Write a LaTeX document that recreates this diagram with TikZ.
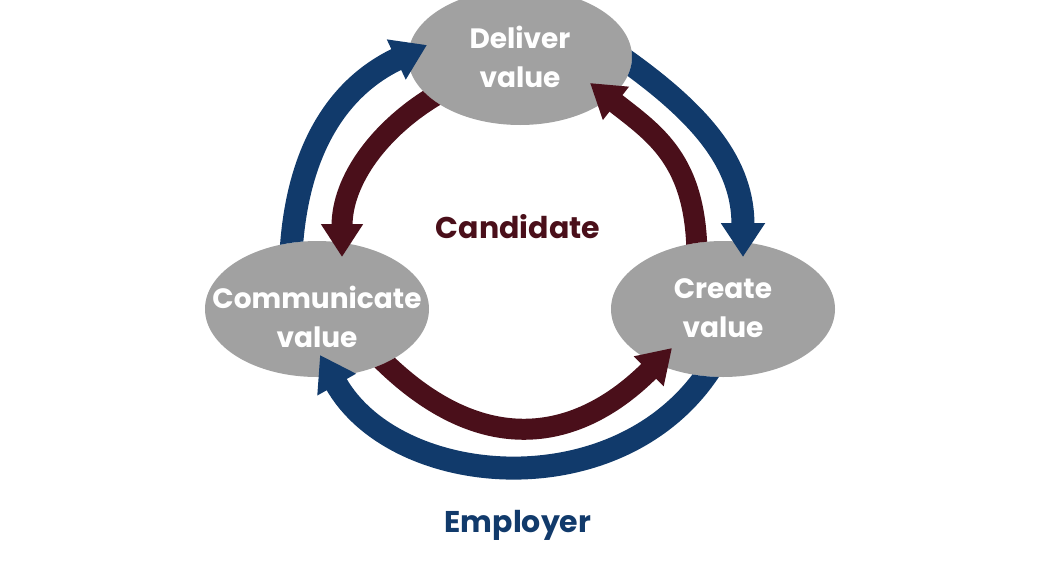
\documentclass[tikz,border=0pt]{standalone}
\usepackage{fontspec}
\setmainfont{Poppins}
\usetikzlibrary{arrows.meta,shapes.geometric,calc}
\definecolor{navy}{RGB}{17,58,107}
\definecolor{maroon}{RGB}{74,15,26}
\definecolor{bgrey}{RGB}{161,161,161}
\begin{document}
\begin{tikzpicture}[x=1pt,y=-1pt,
  bubble/.style={ellipse,fill=bgrey,minimum width=224pt,minimum height=136pt,inner sep=0pt},
  bubbletext/.style={text=white,align=center,font=\bfseries\fontsize{28}{39}\selectfont},
  outerarrow/.style={draw=navy,line width=23pt,-{Triangle[width=42pt,length=34pt]}},
  innerarrow/.style={draw=maroon,line width=21pt,-{Triangle[width=40pt,length=33pt]}},
  caption/.style={font=\bfseries\fontsize{30}{32}\selectfont},
  notin/.style={even odd rule}]
\useasboundingbox (0,0) rectangle (1038,576);
\clip (0,0) rectangle (1038,576);
\node[bubble,label={[bubbletext,yshift=0pt]center:Deliver\\value}] (deliver) at (520,57) {};
\node[bubble,label={[bubbletext,yshift=-8pt]center:Communicate\\value}] (comm) at (317,309) {};
\node[bubble,label={[bubbletext,yshift=1pt]center:Create\\value}] (create) at (723,309) {};
\node[caption,text=maroon] (cand) at (518,227) {Candidate};
\node[caption,text=navy] (empl) at (518,525) {Employer};
% outer (blue) arrows
\begin{scope}[notin]
\clip (-50,-50) rectangle (1100,650) (comm.center) ellipse [x radius=112, y radius=68];
\draw[outerarrow] ($(comm.center)+(-26,-56)$) .. controls (297,150) and (338,87) .. ($(deliver.center)+(-93,-12)$);
\end{scope}
\begin{scope}[notin]
\clip (-50,-50) rectangle (1100,650) (deliver.center) ellipse [x radius=112, y radius=68];
\draw[outerarrow] ($(deliver.center)+(98,-2)$) .. controls (704,115) and (743,165) .. ($(create.center)+(20,-52)$);
\end{scope}
\begin{scope}[notin]
\clip (-50,-50) rectangle (1100,650) (create.center) ellipse [x radius=112, y radius=68];
\draw[outerarrow] ($(create.center)+(-12,59)$) .. controls (621,508) and (396,490) .. ($(comm.center)+(3,46)$);
\end{scope}
% inner (maroon) arrows
\begin{scope}[notin]
\clip (-50,-50) rectangle (1100,650) (deliver.center) ellipse [x radius=112, y radius=68];
\draw[innerarrow] ($(deliver.center)+(-82,37)$) .. controls (380,128) and (342,180) .. ($(comm.center)+(25,-52)$);
\end{scope}
\begin{scope}[notin]
\clip (-50,-50) rectangle (1100,650) (create.center) ellipse [x radius=112, y radius=68];
\draw[innerarrow] ($(create.center)+(-26,-54)$) .. controls (696,160) and (655,134) .. ($(deliver.center)+(70,26)$);
\end{scope}
\begin{scope}[notin]
\clip (-50,-50) rectangle (1100,650) (comm.center) ellipse [x radius=112, y radius=68];
\draw[innerarrow] ($(comm.center)+(63,49)$) .. controls (483,461) and (579,441) .. ($(create.center)+(-51,39)$);
\end{scope}
\end{tikzpicture}
\end{document}
